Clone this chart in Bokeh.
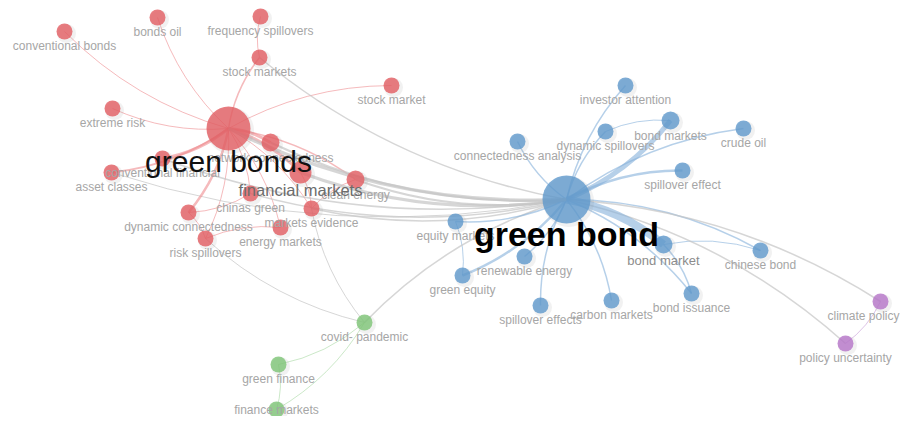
import numpy as np
from bokeh.plotting import figure
from bokeh.models import Range1d, ColumnDataSource
from bokeh.core.properties import value
from bokeh.embed import file_html
from bokeh.resources import INLINE

# ---- data: nodes (layout coordinates) ----
node_names = [
    "green bonds", "conventional bonds", "bonds oil", "frequency spillovers", "stock markets",
    "stock market", "extreme risk", "network connectedness", "conventional financial",
    "asset classes", "financial markets", "clean energy", "chinas green", "markets evidence",
    "dynamic connectedness", "energy markets", "risk spillovers",
    "green bond", "investor attention", "bond markets", "dynamic spillovers", "crude oil",
    "connectedness analysis", "spillover effect", "equity markets", "bond market",
    "chinese bond", "renewable energy", "green equity", "spillover effects", "carbon markets",
    "bond issuance",
    "climate policy", "policy uncertainty",
    "covid- pandemic", "green finance", "finance markets",
]
node_x = [228, 64, 157, 260, 259, 391, 112, 270, 162, 111, 300, 355, 250, 311, 188, 280, 205,
          566, 625, 670, 605, 743, 517, 682, 455, 663, 760, 524, 462, 540, 611, 691,
          880, 845,
          364, 278, 276]
node_y = [128, 31, 17, 16, 57, 85, 108, 142, 158, 172, 172, 179, 193, 208, 212, 227, 238,
          199, 85, 120, 131, 128, 141, 170, 221, 244, 250, 256, 275, 305, 300, 293,
          301, 343,
          322, 364, 409]
node_r = [22, 8, 8, 8, 8, 8, 8, 9, 8, 8, 11, 9, 8, 8, 8, 8, 8,
          24, 8, 9, 8, 8, 8, 8, 8, 9, 8, 8, 8, 8, 8, 8,
          8, 8,
          8, 8, 8]
node_cluster = [0] * 17 + [1] * 15 + [2] * 2 + [3] * 3

# ---- data: links ----
edge_src = [
    "green bonds", "green bonds", "green bonds", "green bonds", "green bonds", "green bonds",
    "green bonds", "green bonds", "green bonds", "green bonds", "green bonds", "green bonds",
    "green bonds", "green bonds", "green bonds", "stock markets", "dynamic connectedness",
    "risk spillovers", "chinas green", "markets evidence", "financial markets",
    "green bond", "green bond", "green bond", "green bond",
    "green bond", "green bond", "green bond", "green bond",
    "covid- pandemic", "covid- pandemic", "covid- pandemic", "covid- pandemic",
    "covid- pandemic", "green finance",
    "green bond", "bond markets", "green bond", "green bond", "green bond", "green bond",
    "green bond", "green bond", "green bond", "green bond", "green bond", "spillover effects",
    "green bond", "green bond", "green bond", "green bond", "green bond",
    "climate policy", "dynamic spillovers", "bond market", "bond market", "equity markets",
]
edge_tgt = [
    "conventional bonds", "bonds oil", "stock markets", "stock market", "extreme risk",
    "network connectedness", "conventional financial", "asset classes", "financial markets",
    "clean energy", "chinas green", "markets evidence", "dynamic connectedness",
    "energy markets", "risk spillovers", "frequency spillovers", "risk spillovers",
    "energy markets", "dynamic connectedness", "clean energy", "markets evidence",
    "green bonds", "financial markets", "clean energy", "network connectedness",
    "markets evidence", "stock markets", "chinas green", "conventional financial",
    "risk spillovers", "green bond", "green finance", "finance markets",
    "markets evidence", "finance markets",
    "investor attention", "green bond", "dynamic spillovers", "crude oil",
    "connectedness analysis", "spillover effect", "equity markets", "bond market",
    "chinese bond", "renewable energy", "green equity", "green bond",
    "carbon markets", "bond issuance", "climate policy", "policy uncertainty", "asset classes",
    "policy uncertainty", "bond markets", "bond issuance", "chinese bond", "green equity",
]
edge_w = [
    1, 1, 1.5, 1, 1, 3, 3, 2, 3, 1.5, 1, 1, 2.5, 1, 1, 1, 1,
    1, 1, 1, 1,
    3.5, 3, 2, 2, 1.5, 1.5, 1.5, 1.5,
    1, 1.5, 1, 1, 1, 1,
    1.5, 5, 1.5, 1.5, 1.5, 2.5, 1.5, 8, 1.5, 1.5, 2.5, 1.5, 1.5, 1.5, 1.5, 1.5, 1,
    1, 1, 1.5, 1, 1,
]

label_size = [30, 12, 12, 12, 12, 12, 12, 12, 12, 12, 16.5, 12, 12, 12, 12, 12, 12,
              34, 12, 12, 12, 12, 12, 12, 12, 13, 12, 12, 12, 12, 12, 12,
              12, 12,
              12, 12, 12]

# ---- styling ----
cluster_fill = ["#e25c62", "#5f98cc", "#b574c8", "#7dc476"]
cluster_edge = ["#ee8c90", "#86b1da", "#c79bd6", "#a9d9a4"]
cross_edge = "#c4c4c4"
W, H = 902, 416

idx = {n: i for i, n in enumerate(node_names)}
nx = np.array(node_x, float)
ny = np.array(node_y, float)
nr = np.array(node_r, float)

p = figure(width=W, height=H, output_backend="svg", toolbar_location=None,
           x_range=Range1d(0, W), y_range=Range1d(H, 0), min_border=0)
p.axis.visible = False
p.grid.visible = False
p.outline_line_color = None
p.background_fill_color = "white"

# edges as gently curved quadratic curves
si = np.array([idx[s] for s in edge_src])
ti = np.array([idx[t] for t in edge_tgt])
x0, y0, x1, y1 = nx[si], ny[si], nx[ti], ny[ti]
dx, dy = x1 - x0, y1 - y0
k = 0.13
cx = (x0 + x1) / 2 + k * dy
cy = (y0 + y1) / 2 - k * dx
colors, alphas = [], []
for s, t in zip(si, ti):
    if node_cluster[s] == node_cluster[t]:
        colors.append(cluster_edge[node_cluster[s]])
        alphas.append(0.6)
    else:
        colors.append(cross_edge)
        alphas.append(0.7)
order = np.argsort(edge_w, kind="stable")
esrc = ColumnDataSource(dict(x0=x0[order], y0=y0[order], x1=x1[order], y1=y1[order],
                             cx=cx[order], cy=cy[order], w=np.array(edge_w)[order],
                             c=[colors[i] for i in order], a=[alphas[i] for i in order]))
p.quadratic(x0="x0", y0="y0", x1="x1", y1="y1", cx="cx", cy="cy", source=esrc,
            line_color="c", line_width="w", line_alpha="a")

# soft shadows
p.scatter(nx + 2, ny + 2, size=2 * nr + 3, fill_color="#888888", fill_alpha=0.12, line_color=None)
# nodes
fills = [cluster_fill[c] for c in node_cluster]
p.scatter(nx, ny, size=2 * nr, fill_color=fills, fill_alpha=0.8, line_color=None)

# label anchors (below each node; two are nudged to stay inside the canvas)
lx = nx.copy()
ly = ny + nr - 1
lx[idx["climate policy"]] = W - 39
ly[idx["finance markets"]] = H - 14

small = [i for i in range(len(node_names)) if label_size[i] <= 13]
lab_col = ["#8c8c8c" if node_names[i] == "bond market" else "#a6a6a6" for i in small]
p.text(x=lx[small], y=ly[small], text=[node_names[i] for i in small],
       text_font=value("Liberation Sans"),
       text_font_size=[f"{label_size[i]}px" for i in small],
       text_color=lab_col, text_align="center", text_baseline="top")

i = idx["financial markets"]
p.text(x=[nx[i]], y=[ny[i] + nr[i] - 3], text=[node_names[i]], text_font=value("Liberation Sans"),
       text_font_size=f"{label_size[i]}px", text_color="#6c6c6c", text_align="center",
       text_baseline="top")
i = idx["green bonds"]
p.text(x=[nx[i]], y=[ny[i] + nr[i] - 6], text=[node_names[i]], text_font=value("Liberation Sans"),
       text_font_size=f"{label_size[i]}px", text_color="#111111", text_align="center",
       text_baseline="top")
i = idx["green bond"]
p.text(x=[nx[i]], y=[ny[i] + nr[i] - 9], text=[node_names[i]], text_font=value("Liberation Sans"),
       text_font_size=f"{label_size[i]}px", text_font_style="bold", text_color="#000000",
       text_align="center", text_baseline="top")

open("out.html", "w").write(file_html(p, INLINE))
